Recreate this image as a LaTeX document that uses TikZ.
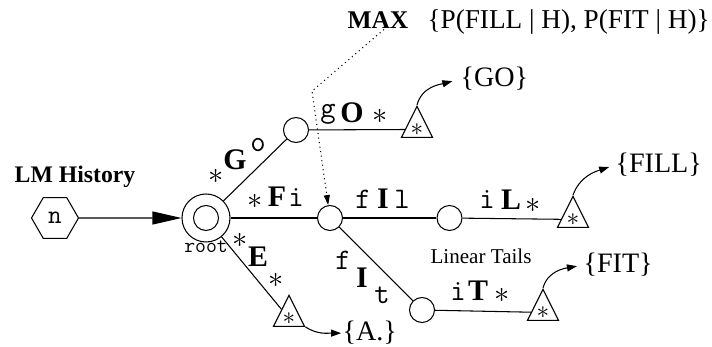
\documentclass[tikz,border=0pt]{standalone}
\usepackage{fontspec}
\setmainfont{Liberation Serif}
\usetikzlibrary{arrows.meta, positioning, shapes.geometric}

\begin{document}
\begin{tikzpicture}[
        line width=0.6pt,
        state/.style={circle, draw, minimum size=0.5cm, inner sep=0pt},
        leaf/.style={isosceles triangle, isosceles triangle stretches, shape border rotate=90, draw, minimum width=0.62cm, minimum height=0.62cm, inner sep=0pt, anchor=apex, font=\fontsize{15}{15}\selectfont},
        big/.style={font=\fontsize{17}{17}\selectfont\bfseries, inner sep=0pt},
        chr/.style={font=\fontsize{17}{17}\selectfont\ttfamily, inner sep=0pt},
        ast/.style={font=\fontsize{16}{16}\selectfont, inner sep=0pt},
        wordset/.style={font=\fontsize{16}{18}\selectfont, inner sep=0pt, anchor=base west},
        toset/.style={-{Triangle[length=0.2cm, width=0.14cm]}}
    ]
        \useasboundingbox (0,0) rectangle (14.24,6.94);

        % History and root
        \node[font=\fontsize{13.5}{16}\selectfont\bfseries, anchor=base] (lmh) at (1.50,3.28) {LM History};
        \node[regular polygon, regular polygon sides=6, draw, minimum size=0.94cm, inner sep=0pt, font=\fontsize{15}{15}\selectfont\ttfamily] (hist) at (1.10,2.58) {n};
        \node[state, minimum size=0.96cm, path picture={\draw (path picture bounding box.center) circle (0.25cm);}] (root) at (4.12,2.58) {};
        \node[font=\fontsize{12}{12}\selectfont\ttfamily, inner sep=0pt] (rootlbl) at (4.12,2.00) {root};

        % Trie states
        \node[state] (nG) at (5.92,4.34) {};
        \node[state] (nF) at (6.60,2.58) {};
        \node[state] (nL) at (8.99,2.58) {};
        \node[state] (nT) at (8.44,0.74) {};

        % Word ends
        \node[leaf] (leafG) at (8.34,4.84) {$\ast$};
        \node[leaf] (leafL) at (11.46,3.04) {$\ast$};
        \node[leaf] (leafT) at (10.86,1.18) {$\ast$};
        \node[leaf] (leafE) at (5.78,1.06) {$\ast$};

        \node[wordset] (setGO) at (9.20,5.20) {\{GO\}};
        \node[wordset] (setFILL) at (12.30,3.48) {\{FILL\}};
        \node[wordset] (setFIT) at (11.66,1.48) {\{FIT\}};
        \node[wordset] (setA) at (6.84,0.12) {\{A.\}};

        % Max over the words below a state
        \node[font=\fontsize{14.5}{16}\selectfont\bfseries, inner sep=0pt, anchor=base west] (max) at (6.94,6.36) {MAX};
        \node[font=\fontsize{15.5}{18}\selectfont, inner sep=0pt, anchor=base west] (probs) at (8.54,6.36) {\{P(FILL | H), P(FIT | H)\}};
        \coordinate (bend) at (6.24,5.12);

        \node[font=\fontsize{12}{14}\selectfont, anchor=base] (tails) at (9.62,1.66) {Linear Tails};

        % Edge labels
        \node[ast] (g1) at (4.32,3.42) {$\ast$}; \node[big] (g2) at (4.70,3.74) {G}; \node[chr] (g3) at (5.16,4.04) {o};
        \node[chr] (o1) at (6.56,4.66) {g}; \node[big] (o2) at (7.04,4.68) {O}; \node[ast] (o3) at (7.60,4.62) {$\ast$};
        \node[ast] (f1) at (5.10,2.92) {$\ast$}; \node[big] (f2) at (5.54,3.00) {F}; \node[chr] (f3) at (5.92,2.98) {i};
        \node[chr] (i1) at (7.26,2.96) {f}; \node[big] (i2) at (7.66,2.96) {I}; \node[chr] (i3) at (8.04,2.96) {l};
        \node[chr] (l1) at (9.74,2.94) {i}; \node[big] (l2) at (10.22,2.94) {L}; \node[ast] (l3) at (10.66,2.84) {$\ast$};
        \node[chr] (j1) at (6.86,1.74) {f}; \node[big] (j2) at (7.24,1.38) {I}; \node[chr] (j3) at (7.64,1.04) {t};
        \node[chr] (t1) at (9.16,1.10) {i}; \node[big] (t2) at (9.56,1.12) {T}; \node[ast] (t3) at (10.04,1.04) {$\ast$};
        \node[ast] (e1) at (4.80,2.14) {$\ast$}; \node[big] (e2) at (5.16,1.80) {E}; \node[ast] (e3) at (5.52,1.34) {$\ast$};

        % Connections
        \draw[-{Triangle[length=0.58cm, width=0.26cm]}] (hist) -- (root);
        \draw (root) -- (nG); \draw (root) -- (nF); \draw (root) -- (leafE);
        \draw (nG) -- (leafG);
        \draw (nF) -- (nL); \draw (nL) -- (leafL);
        \draw (nF) -- (nT); \draw (nT) -- (leafT);

        \draw[toset, shorten >=4.5pt] (leafG.apex) to[out=75, in=195] (setGO.west);
        \draw[toset, shorten >=3.5pt] (leafL.apex) to[out=70, in=198] (setFILL.west);
        \draw[toset, shorten >=3.5pt] (leafT.apex) to[out=75, in=190] (setFIT.west);
        \draw[toset, shorten >=0.5pt] (leafE.right corner) to[out=-33, in=180] (setA.west);

        \draw[dotted, -{Triangle[length=0.2cm, width=0.12cm]}] ([xshift=0.12cm]max.south) -- (bend) -- (nF);
    \end{tikzpicture}
\end{document}
